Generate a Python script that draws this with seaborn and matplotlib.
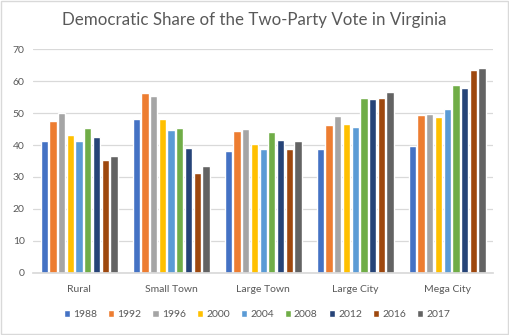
import matplotlib
matplotlib.use("Agg")
import matplotlib.pyplot as plt
import seaborn as sns
import pandas as pd
from matplotlib.patches import Rectangle

categories = ["Rural", "Small Town", "Large Town", "Large City", "Mega City"]
years = ["1988", "1992", "1996", "2000", "2004", "2008", "2012", "2016", "2017"]
v1988 = [41.3, 48.2, 38.2, 38.9, 39.8]
v1992 = [47.6, 56.3, 44.5, 46.4, 49.5]
v1996 = [50.0, 55.4, 45.1, 49.2, 49.8]
v2000 = [43.2, 48.2, 40.4, 46.7, 48.9]
v2004 = [41.3, 44.8, 38.9, 45.7, 51.4]
v2008 = [45.4, 45.4, 44.2, 54.8, 58.9]
v2012 = [42.5, 39.1, 41.7, 54.5, 57.9]
v2016 = [35.3, 31.2, 38.9, 54.8, 63.5]
v2017 = [36.6, 33.4, 41.4, 56.7, 64.2]
series = [v1988, v1992, v1996, v2000, v2004, v2008, v2012, v2016, v2017]
colors = ["#4472C4", "#ED7D31", "#A5A5A5", "#FFC000", "#5B9BD5",
          "#70AD47", "#264478", "#9E480E", "#636363"]

rows = []
for y, vals in zip(years, series):
    for c, v in zip(categories, vals):
        rows.append({"Type": c, "Year": y, "Share": v})
df = pd.DataFrame(rows)

sns.set_theme(style="white")
plt.rcParams["font.family"] = ["Lato", "DejaVu Sans"]
text_color = "#595959"

fig = plt.figure(figsize=(5.09, 3.35), dpi=100)
ax = fig.add_axes([0.065, 0.186, 0.904, 0.667])
sns.barplot(data=df, x="Type", y="Share", hue="Year", order=categories,
            hue_order=years, palette=colors, width=0.85, gap=0.16,
            saturation=1, ax=ax, legend=True)

ax.set_ylim(0, 70)
ax.set_xlim(-0.5, 4.5)
ax.set_yticks(range(0, 71, 10))
ax.yaxis.grid(True, color="#D9D9D9", linewidth=0.9)
ax.set_axisbelow(True)
ax.set_xlabel("")
ax.set_ylabel("")
for s in ["top", "right", "left"]:
    ax.spines[s].set_visible(False)
ax.spines["bottom"].set_color("#D9D9D9")
ax.tick_params(axis="both", length=0, labelsize=7.5, colors=text_color, pad=6)
ax.tick_params(axis="x", pad=9)

h, l = ax.get_legend_handles_labels()
ax.get_legend().remove()
fig.legend(h, l, loc="center", bbox_to_anchor=(0.505, 0.06), ncol=9,
           frameon=False, fontsize=7.5, handlelength=0.6, handleheight=0.6,
           handletextpad=0.3, columnspacing=1.05, labelcolor=text_color)

fig.suptitle("Democratic Share of the Two-Party Vote in Virginia",
             x=0.5, y=0.965, fontsize=12.2, color=text_color)

fig.patches.append(Rectangle((0.001, 0.002), 0.997, 0.995, transform=fig.transFigure,
                             fill=False, edgecolor="#D9D9D9", linewidth=1))

fig.savefig("out.png", dpi=100)
